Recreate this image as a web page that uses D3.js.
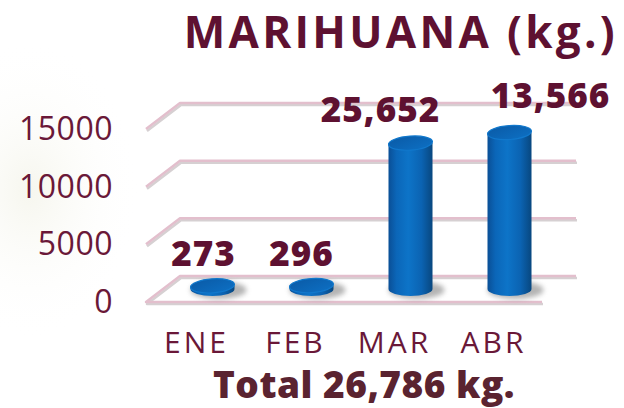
<!DOCTYPE html>
<html><head><meta charset="utf-8">
<script src="https://cdn.jsdelivr.net/npm/d3@7"></script>
<style>html,body{margin:0;padding:0;background:#fff;}svg{display:block;}</style>
</head><body>
<svg id="c" width="624" height="408"></svg>
<script>
const categories = ["ENE", "FEB", "MAR", "ABR"];
const values = [273, 296, 12651, 13566];
const valueLabels = ["273", "296", "25,652", "13,566"];
const tickValues = [0, 5000, 10000, 15000];
const title = "MARIHUANA (kg.)";
const totalText = "Total 26,786 kg.";

// layout (not data)
const labelDx = [-9, -10, -30, 41];
const labelDy = [-20, -20, -21, -25];
const depthX = 17, depthY = 13;

const svg = d3.select("#c");
const defs = svg.append("defs");

// faint watermark background
const rg = defs.append("radialGradient").attr("id","wm");
rg.append("stop").attr("offset","0%").attr("stop-color","#f6f6ee");
rg.append("stop").attr("offset","100%").attr("stop-color","#ffffff").attr("stop-opacity",0);
svg.append("ellipse").attr("cx",30).attr("cy",190).attr("rx",110).attr("ry",150).attr("fill","url(#wm)");

const blur = defs.append("filter").attr("id","blur").attr("x","-50%").attr("y","-50%").attr("width","200%").attr("height","200%");
blur.append("feGaussianBlur").attr("stdDeviation",2.5);

const bodyG = defs.append("linearGradient").attr("id","body").attr("x1","0").attr("x2","1").attr("y1","0").attr("y2","0");
[["0%","#0a4f96"],["18%","#0b66b8"],["45%","#0d74c8"],["75%","#0b63b2"],["100%","#08477f"]].forEach(s=>bodyG.append("stop").attr("offset",s[0]).attr("stop-color",s[1]));
const topG = defs.append("linearGradient").attr("id","top").attr("x1","0").attr("x2","1").attr("y1","0").attr("y2","1");
[["0%","#0a5aa6"],["100%","#0d70c4"]].forEach(s=>topG.append("stop").attr("offset",s[0]).attr("stop-color",s[1]));

const y = d3.scaleLinear().domain([0, 15000]).range([289, 116]);
const x = d3.scaleBand().domain(categories).range([163, 559]);
const cx = c => x(c) + x.bandwidth()/2;
const xLeft = x.range()[0], xRight = x.range()[1];

// grid lines (back wall + left diagonal)
const grid = svg.append("g");
tickValues.forEach(v => {
  const bY = y(v) - depthY, fY = y(v) + depthY;
  const pts = [[xLeft - depthX, fY],[xLeft + depthX, bY],[xRight + depthX, bY]];
  if (v === 0) pts.unshift([xRight - depthX, fY]);
  const line = d3.line();
  grid.append("path").attr("d", line(pts.map(p=>[p[0]+1,p[1]+2]))).attr("fill","none")
    .attr("stroke","#d6d0d2").attr("stroke-width",2.5).attr("stroke-linejoin","round");
  grid.append("path").attr("d", line(pts)).attr("fill","none")
    .attr("stroke","#e3bfcd").attr("stroke-width",2.5).attr("stroke-linejoin","round");
});

// y tick labels
svg.append("g").selectAll("text").data(tickValues).join("text")
  .attr("x", 113).attr("y", v => y(v) + depthY + 11)
  .attr("text-anchor","end").attr("font-family","'Open Sans', sans-serif")
  .attr("font-size",32).attr("letter-spacing",0.5).attr("fill","#6a1838").text(v => v);

// cylinders
const rx = 22, ry = 7;
const bars = svg.append("g").selectAll("g").data(values).join("g");
bars.each(function(v, i) {
  const g = d3.select(this);
  const c = cx(categories[i]);
  const y0 = y(0), y1 = y(v);
  g.append("ellipse").attr("cx", c + 6).attr("cy", y0 + 1).attr("rx", rx + 6).attr("ry", ry + 2)
    .attr("fill","#777").attr("opacity",0.55).attr("filter","url(#blur)");
  g.append("path")
    .attr("d", `M${c-rx},${y1} L${c-rx},${y0} A${rx},${ry} 0 0 0 ${c+rx},${y0} L${c+rx},${y1} Z`)
    .attr("fill","url(#body)");
  g.append("ellipse").attr("cx", c).attr("cy", y1).attr("rx", rx).attr("ry", ry)
    .attr("fill","url(#top)").attr("stroke","#1178cc").attr("stroke-width",1.2)
    .attr("transform", `rotate(-4 ${c} ${y1})`);
});

// value labels
svg.append("g").selectAll("text").data(values).join("text")
  .attr("x", (v,i) => cx(categories[i]) + labelDx[i])
  .attr("y", (v,i) => y(v) + labelDy[i])
  .attr("text-anchor","middle").attr("font-family","'Open Sans', sans-serif")
  .attr("font-weight",800).attr("font-size",35).attr("letter-spacing",1).attr("fill","#5e1131")
  .text((v,i) => valueLabels[i]);

// category labels
svg.append("g").selectAll("text").data(categories).join("text")
  .attr("x", c => cx(c) - depthX + 1).attr("y", 353)
  .attr("text-anchor","middle").attr("font-family","'Open Sans', sans-serif")
  .attr("font-size",30).attr("letter-spacing",3).attr("fill","#6a1838").text(c => c);

// title
svg.append("text").attr("x", 618).attr("y", 48).attr("text-anchor","end")
  .attr("font-family","'Open Sans', sans-serif").attr("font-weight",700)
  .attr("font-size",44).attr("letter-spacing",3.3).attr("fill","#5e1131").text(title);

// total
svg.append("text").attr("x", 364).attr("y", 398).attr("text-anchor","middle")
  .attr("font-family","'Open Sans', sans-serif").attr("font-weight",800)
  .attr("font-size",37).attr("letter-spacing",0.5).attr("fill","#5a2330").text(totalText);
</script>
</body></html>
